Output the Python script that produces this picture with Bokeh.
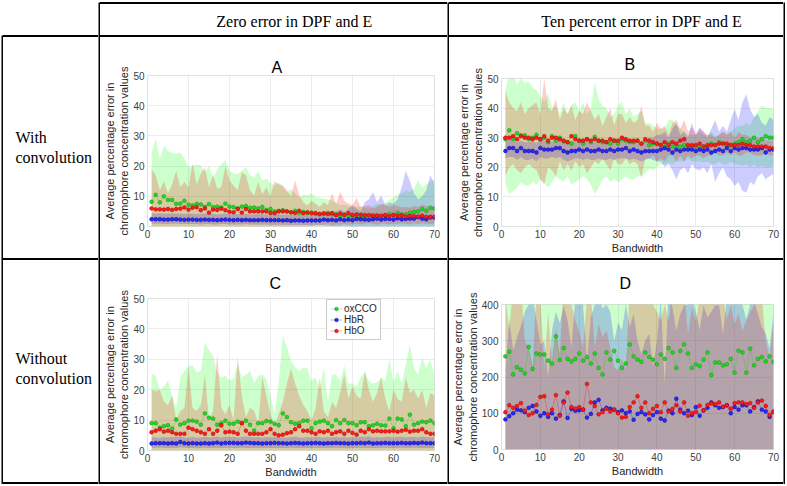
from bokeh.plotting import figure
from bokeh.layouts import row, column
from bokeh.models import Range1d, FixedTicker, Legend, LegendItem, Div
from bokeh.embed import file_html
from bokeh.resources import INLINE
from bokeh.core.properties import value

# ---------------- data ----------------
bandwidth = list(range(1, 71))
x_ticks = [0, 10, 20, 30, 40, 50, 60, 70]
y_ticks_small = [0, 10, 20, 30, 40, 50]
y_ticks_large = [0, 100, 200, 300, 400]
series_names = ["oxCCO", "HbR", "HbO"]
panel_titles = ["A", "B", "C", "D"]
header_labels = ["Zero error in DPF and E", "Ten percent error in DPF and E"]
row_labels = [["With", "convolution"], ["Without", "convolution"]]
x_label = "Bandwidth"
y_label = "Average percentage error in\nchromophore concentration values"

# Panel A : with convolution, zero error
A_oxcco_mean = [8.2, 10.5, 8.0, 10.0, 8.8, 8.8, 7.5, 7.6, 8.5, 7.2,
                7.0, 7.5, 7.3, 6.5, 7.4, 6.4, 6.6, 6.3, 7.6, 6.6,
                6.4, 6.0, 6.6, 6.8, 6.2, 6.3, 6.0, 6.5, 5.5, 5.8,
                5.0, 5.2, 5.4, 5.0, 4.7, 5.2, 4.5, 4.8, 4.5, 4.6,
                4.3, 4.0, 4.3, 4.5, 4.0, 4.0, 3.5, 3.7, 3.5, 3.5,
                3.0, 3.2, 3.4, 3.3, 3.3, 3.8, 3.4, 3.6, 4.2, 3.8,
                4.5, 4.0, 4.0, 4.5, 4.8, 5.0, 5.8, 5.2, 6.2, 6.0]
A_oxcco_lo = [0.0, 0.0, 0.0, 0.0, 0.0, 0.0, 0.0, 0.0, 0.0, 0.0,
              0.0, 0.0, 0.0, 0.0, 0.0, 0.0, 0.0, 0.0, 0.0, 0.0,
              0.0, 0.0, 0.0, 0.0, 0.0, 0.0, 0.0, 0.0, 0.0, 0.0,
              0.0, 0.0, 0.0, 0.0, 0.0, 0.0, 0.0, 0.0, 0.0, 0.0,
              0.0, 0.0, 0.0, 0.0, 0.0, 0.0, 0.0, 0.0, 0.0, 0.0,
              0.0, 0.0, 0.0, 0.0, 0.0, 0.0, 0.0, 0.0, 0.0, 0.0,
              0.0, 0.0, 0.0, 0.0, 0.0, 0.0, 0.0, 0.0, 0.0, 0.0]
A_oxcco_hi = [24.5, 29.0, 22.4, 26.8, 25.0, 24.5, 24.0, 24.5, 22.5, 19.6,
              20.0, 20.5, 20.2, 18.0, 20.2, 15.8, 19.0, 20.5, 22.0, 18.5,
              17.5, 17.4, 18.5, 19.6, 17.0, 16.3, 18.5, 15.2, 15.8, 14.5,
              13.6, 14.5, 13.5, 11.4, 12.5, 11.0, 9.7, 10.5, 10.3, 11.0,
              9.7, 9.5, 9.2, 9.0, 8.5, 7.8, 7.0, 7.2, 6.8, 6.4,
              6.6, 6.5, 6.2, 5.9, 6.8, 7.5, 7.0, 8.0, 8.8, 9.7,
              10.5, 11.0, 12.0, 11.5, 12.5, 15.2, 13.0, 14.0, 15.0, 15.8]
A_hbr_mean = [2.4, 2.4, 2.4, 2.3, 2.3, 2.4, 2.4, 2.3, 2.2, 2.3,
              2.3, 2.2, 2.2, 2.3, 2.2, 2.2, 2.1, 2.2, 2.3, 2.2,
              2.1, 2.2, 2.1, 2.2, 2.1, 2.1, 2.1, 2.2, 2.1, 2.1,
              2.1, 2.1, 2.0, 2.1, 1.9, 2.0, 2.0, 1.9, 2.0, 2.0,
              2.0, 2.0, 2.3, 2.1, 2.2, 2.0, 2.4, 2.1, 2.3, 2.1,
              2.5, 2.4, 2.3, 2.2, 2.4, 2.6, 2.3, 2.5, 2.5, 2.3,
              2.7, 2.4, 2.5, 2.6, 2.6, 3.1, 2.6, 2.4, 3.0, 2.9]
A_hbr_lo = [0.9, 0.9, 0.9, 0.8, 0.8, 0.9, 0.9, 0.8, 0.8, 0.8,
            0.8, 0.8, 0.7, 0.8, 0.8, 0.7, 0.7, 0.8, 0.8, 0.7,
            0.7, 0.7, 0.7, 0.8, 0.7, 0.7, 0.6, 0.7, 0.7, 0.6,
            0.6, 0.6, 0.6, 0.6, 0.5, 0.5, 0.5, 0.5, 0.5, 0.4,
            0.4, 0.3, 0.3, 0.2, 0.2, 0.1, 0.1, 0.2, 0.1, 0.0,
            0.0, 0.1, 0.0, 0.0, 0.0, 0.0, 0.0, 0.0, 0.0, 0.0,
            0.0, 0.0, 0.0, 0.0, 0.0, 0.0, 0.0, 0.0, 0.0, 0.0]
A_hbr_hi = [4.4, 4.3, 4.4, 4.2, 4.3, 4.4, 4.3, 4.2, 4.1, 4.3,
            4.2, 4.1, 4.2, 4.3, 4.1, 4.2, 4.0, 4.1, 4.3, 4.1,
            4.0, 4.1, 4.0, 4.2, 4.0, 4.0, 4.1, 4.1, 4.0, 4.0,
            4.0, 4.1, 3.9, 4.0, 3.8, 3.9, 3.9, 3.8, 4.0, 4.1,
            4.2, 4.3, 4.8, 4.5, 5.2, 5.0, 5.6, 4.8, 6.0, 7.0,
            6.0, 5.0, 8.0, 9.0, 11.4, 8.0, 10.3, 7.0, 8.0, 7.5,
            9.0, 13.0, 18.5, 15.0, 11.0, 9.0, 10.0, 12.0, 17.0, 14.0]
A_hbo_mean = [6.0, 5.7, 5.7, 5.6, 5.8, 5.5, 5.8, 5.9, 6.3, 5.6,
              6.2, 6.4, 5.4, 6.0, 4.6, 5.6, 5.5, 5.9, 5.4, 4.9,
              4.7, 5.8, 4.6, 5.8, 5.0, 5.0, 5.0, 5.0, 5.0, 4.5,
              4.4, 5.0, 5.0, 5.0, 4.7, 4.5, 5.2, 4.4, 4.7, 4.4,
              4.4, 4.2, 4.3, 4.1, 4.4, 3.7, 4.3, 3.9, 4.4, 3.8,
              4.0, 3.9, 3.8, 3.8, 3.7, 3.5, 3.6, 3.8, 3.4, 3.8,
              3.6, 3.7, 3.3, 3.5, 3.4, 3.3, 3.6, 3.2, 3.2, 3.3]
A_hbo_lo = [0.0, 0.0, 0.0, 0.0, 0.0, 0.0, 0.0, 0.0, 0.0, 0.0,
            0.0, 0.0, 0.0, 0.0, 0.0, 0.0, 0.0, 0.0, 0.0, 0.0,
            0.0, 0.0, 0.0, 0.0, 0.0, 0.0, 0.0, 0.0, 0.0, 0.0,
            0.0, 0.0, 0.0, 0.0, 0.0, 0.0, 0.0, 0.0, 0.0, 0.0,
            0.4, 0.6, 0.5, 0.8, 0.3, 0.7, 0.5, 0.9, 0.6, 0.8,
            1.0, 0.7, 0.9, 1.1, 0.8, 0.6, 1.0, 0.9, 0.7, 1.0,
            0.8, 1.1, 0.9, 0.7, 1.0, 0.8, 1.1, 0.9, 0.8, 1.0]
A_hbo_hi = [19.0, 17.0, 12.0, 15.0, 11.0, 14.0, 18.5, 13.0, 14.7, 13.0,
            21.0, 14.0, 17.5, 19.6, 13.0, 17.4, 12.5, 13.0, 20.0, 15.2,
            13.6, 12.0, 18.0, 17.0, 12.0, 10.3, 14.7, 10.8, 13.0, 10.0,
            15.0, 14.0, 13.5, 12.0, 10.0, 15.2, 10.5, 8.0, 7.0, 8.5,
            7.5, 6.5, 8.0, 7.0, 11.0, 7.5, 11.5, 8.5, 7.5, 7.0,
            9.5, 6.5, 6.8, 7.0, 6.0, 6.5, 7.5, 7.0, 6.5, 7.0,
            6.8, 6.3, 6.5, 6.2, 6.8, 6.5, 7.2, 6.8, 6.6, 6.3]

# Panel B : with convolution, ten percent error
B_oxcco_mean = [29.5, 32.5, 29.5, 31.5, 30.8, 30.8, 29.5, 30.0, 31.0, 29.5,
                30.0, 28.5, 30.5, 29.0, 30.0, 28.8, 28.5, 28.0, 30.5, 29.0,
                28.0, 29.5, 28.5, 30.3, 29.0, 28.5, 28.5, 28.0, 29.0, 28.0,
                29.5, 29.0, 28.5, 28.5, 29.0, 28.0, 29.0, 27.5, 28.0, 28.0,
                27.5, 27.0, 28.0, 27.0, 27.5, 27.0, 27.5, 27.0, 26.5, 27.0,
                26.5, 27.0, 27.0, 28.0, 27.5, 28.5, 28.0, 27.0, 27.5, 28.0,
                28.5, 29.5, 28.5, 29.0, 30.0, 28.5, 29.5, 30.5, 30.0, 30.0]
B_oxcco_lo = [14.3, 11.0, 12.0, 13.0, 15.0, 14.0, 13.7, 15.0, 14.0, 16.0,
              15.0, 13.0, 15.0, 17.0, 16.0, 15.0, 17.0, 14.3, 15.0, 16.0,
              17.0, 16.0, 14.0, 11.0, 13.0, 16.0, 17.0, 15.0, 16.0, 15.0,
              16.0, 17.0, 16.0, 16.0, 17.0, 17.0, 18.0, 19.4, 19.0, 20.0,
              21.0, 21.0, 21.6, 21.0, 22.0, 22.0, 22.0, 23.0, 22.0, 22.0,
              22.0, 21.5, 22.0, 21.0, 21.0, 22.0, 21.0, 21.0, 22.0, 21.0,
              21.0, 20.5, 21.0, 20.0, 21.0, 20.0, 20.5, 20.0, 20.0, 20.5]
B_oxcco_hi = [45.8, 52.0, 51.0, 48.0, 50.0, 48.6, 49.0, 47.0, 46.0, 44.0,
              42.0, 45.0, 40.0, 41.0, 38.0, 42.0, 38.0, 41.0, 42.0, 39.0,
              42.0, 38.0, 40.0, 48.6, 43.0, 40.8, 40.0, 37.0, 38.0, 41.0,
              42.0, 38.0, 40.0, 37.0, 38.0, 39.0, 35.0, 35.0, 34.0, 33.0,
              33.0, 33.0, 36.0, 36.0, 34.0, 33.0, 32.0, 31.0, 31.0, 31.0,
              32.0, 31.0, 31.0, 32.0, 30.5, 31.0, 32.0, 31.0, 32.0, 33.0,
              34.0, 34.0, 35.0, 34.0, 37.0, 39.0, 41.0, 40.0, 40.0, 39.6]
B_hbr_mean = [25.5, 26.5, 26.5, 25.5, 26.5, 25.5, 25.5, 25.5, 25.0, 26.5,
              26.0, 26.0, 26.0, 26.5, 26.5, 25.5, 25.0, 25.5, 25.5, 26.0,
              25.5, 26.0, 25.5, 25.5, 26.0, 25.5, 25.5, 26.0, 25.5, 26.0,
              26.0, 26.5, 25.5, 26.0, 25.5, 25.0, 25.5, 25.5, 25.5, 25.5,
              26.0, 26.5, 26.0, 25.0, 26.0, 25.5, 26.0, 26.0, 26.0, 25.5,
              26.0, 25.5, 26.0, 25.0, 25.5, 26.0, 25.5, 26.5, 25.5, 26.5,
              26.0, 26.5, 26.5, 26.0, 26.0, 26.0, 26.5, 25.0, 26.0, 26.0]
B_hbr_lo = [23.0, 23.5, 23.5, 22.5, 23.5, 22.5, 22.5, 23.0, 22.0, 23.5,
            23.0, 23.0, 23.5, 23.0, 23.5, 22.5, 22.0, 22.5, 23.0, 23.0,
            22.5, 23.0, 22.5, 22.5, 23.0, 22.5, 22.5, 23.0, 22.5, 23.0,
            23.0, 23.0, 22.5, 23.0, 22.5, 22.0, 22.5, 23.0, 22.5, 22.0,
            22.0, 20.0, 21.0, 19.0, 16.0, 19.0, 20.0, 18.0, 21.0, 19.4,
            19.0, 20.0, 18.0, 21.0, 15.0, 18.0, 20.0, 17.0, 16.0, 13.7,
            15.0, 12.0, 11.5, 15.0, 14.0, 17.0, 18.0, 16.0, 17.0, 17.7]
B_hbr_hi = [29.0, 29.5, 29.0, 28.5, 29.0, 28.5, 28.5, 29.0, 28.0, 30.0,
            29.0, 29.0, 28.5, 30.0, 29.0, 28.5, 28.0, 29.0, 28.5, 29.0,
            28.5, 29.0, 28.5, 28.5, 29.0, 28.5, 28.5, 29.0, 28.5, 29.0,
            29.0, 30.0, 28.5, 29.0, 28.5, 28.0, 29.0, 30.0, 30.0, 31.0,
            31.0, 32.0, 30.0, 33.0, 35.0, 31.0, 32.0, 30.0, 35.0, 31.0,
            33.5, 32.0, 30.0, 33.0, 36.0, 32.0, 34.0, 32.0, 36.0, 39.6,
            36.0, 42.0, 44.7, 39.6, 37.0, 38.0, 35.0, 34.0, 37.0, 36.0]
B_hbo_mean = [30.0, 30.0, 30.5, 29.5, 30.5, 30.0, 30.0, 29.5, 30.0, 29.5,
              30.5, 29.0, 30.0, 30.0, 29.5, 29.0, 28.5, 30.5, 29.5, 29.0,
              29.0, 29.5, 29.0, 29.5, 29.0, 29.0, 28.5, 29.5, 29.0, 29.0,
              30.0, 29.5, 29.0, 29.0, 29.0, 28.0, 29.5, 29.0, 28.5, 28.0,
              27.5, 28.5, 27.5, 28.5, 28.0, 29.0, 29.5, 27.5, 27.5, 27.5,
              28.0, 27.0, 27.5, 27.5, 27.5, 28.0, 28.0, 28.0, 27.5, 27.5,
              27.5, 28.0, 27.5, 27.5, 27.0, 27.0, 27.0, 27.0, 26.5, 26.5]
B_hbo_lo = [17.0, 20.0, 21.0, 19.0, 18.0, 20.0, 21.0, 20.0, 19.0, 16.0,
            14.0, 20.0, 19.0, 17.0, 22.0, 19.0, 21.0, 19.0, 22.0, 20.0,
            21.0, 18.0, 20.0, 22.0, 21.0, 23.0, 21.0, 19.0, 23.0, 21.0,
            21.0, 23.0, 21.0, 22.0, 21.0, 16.5, 23.0, 23.0, 24.0, 22.0,
            23.0, 22.0, 24.0, 24.0, 22.0, 24.0, 22.0, 24.0, 23.0, 24.0,
            24.0, 23.0, 24.0, 24.0, 25.0, 24.0, 24.0, 25.0, 24.0, 25.0,
            24.0, 24.0, 25.0, 25.0, 24.0, 24.0, 24.0, 25.0, 24.0, 24.0]
B_hbo_hi = [45.8, 42.0, 40.0, 39.0, 42.0, 38.0, 40.0, 41.0, 42.0, 38.0,
            50.0, 40.0, 39.0, 43.0, 36.0, 40.0, 38.0, 41.0, 36.0, 39.0,
            38.0, 42.0, 39.0, 36.0, 38.0, 34.0, 37.0, 40.0, 34.0, 38.0,
            38.0, 35.0, 37.0, 35.0, 36.0, 40.8, 34.0, 34.0, 32.0, 35.0,
            33.0, 34.0, 31.0, 35.0, 36.0, 33.0, 36.0, 32.0, 33.5, 31.0,
            33.0, 32.0, 31.0, 31.0, 30.0, 31.0, 32.0, 31.0, 32.0, 30.0,
            32.0, 31.0, 31.0, 30.0, 30.0, 30.0, 30.0, 29.0, 29.0, 29.0]

# Panel C : without convolution, zero error
C_oxcco_mean = [9.0, 9.0, 7.5, 8.0, 8.3, 7.2, 10.2, 8.5, 9.0, 9.8,
                9.8, 9.5, 8.5, 12.2, 10.8, 10.5, 8.5, 9.0, 9.8, 8.8,
                8.8, 9.5, 9.0, 9.8, 8.5, 6.5, 9.0, 9.0, 9.7, 9.5,
                8.8, 8.3, 12.2, 11.0, 9.3, 8.8, 9.0, 9.8, 9.8, 7.3,
                9.0, 9.5, 9.8, 9.0, 8.0, 10.0, 9.0, 10.0, 9.0, 9.0,
                8.3, 9.3, 9.3, 8.0, 8.3, 8.8, 8.3, 8.2, 10.5, 7.3,
                10.5, 10.2, 8.0, 11.8, 8.5, 9.0, 9.5, 9.3, 9.8, 9.0]
C_oxcco_lo = [0.0, 0.0, 0.0, 0.0, 0.0, 0.0, 0.0, 0.0, 0.0, 0.0,
              0.0, 0.0, 0.0, 0.0, 0.0, 0.0, 0.0, 0.0, 0.0, 0.0,
              0.0, 0.0, 0.0, 0.0, 0.0, 0.0, 0.0, 0.0, 0.0, 0.0,
              0.0, 0.0, 0.0, 0.0, 0.0, 0.0, 0.0, 0.0, 0.0, 0.0,
              0.0, 0.0, 0.0, 0.0, 0.0, 0.0, 0.0, 0.0, 0.0, 0.0,
              0.0, 0.0, 0.0, 0.0, 0.0, 0.0, 0.0, 0.0, 0.0, 0.0,
              0.0, 0.0, 0.0, 0.0, 0.0, 0.0, 0.0, 0.0, 0.0, 0.0]
C_oxcco_hi = [25.5, 24.5, 20.0, 21.0, 23.0, 18.0, 14.0, 24.0, 26.2, 28.0,
              28.0, 25.7, 26.2, 35.5, 33.0, 31.0, 25.7, 24.0, 24.6, 23.0,
              23.5, 28.4, 24.0, 25.0, 26.2, 22.4, 24.5, 25.0, 23.5, 18.0,
              12.0, 22.4, 37.7, 34.0, 29.5, 27.5, 26.0, 27.3, 27.0, 22.9,
              24.0, 20.2, 27.3, 16.0, 25.0, 25.0, 22.9, 28.0, 22.0, 22.0,
              21.0, 24.0, 26.0, 22.9, 22.0, 22.4, 24.0, 23.0, 30.0, 22.6,
              26.0, 22.0, 28.0, 35.0, 27.0, 25.0, 30.6, 27.0, 30.0, 24.6]
C_hbr_mean = [2.3, 2.4, 2.4, 2.4, 2.3, 2.4, 2.3, 2.8, 2.4, 2.3,
              2.4, 2.3, 2.3, 2.4, 2.3, 2.4, 2.6, 2.3, 2.5, 2.5,
              2.5, 2.4, 2.4, 2.6, 2.5, 2.4, 2.4, 2.3, 2.4, 2.4,
              2.5, 2.4, 2.4, 2.3, 2.4, 2.5, 2.4, 2.3, 2.4, 2.4,
              2.5, 2.4, 2.3, 2.4, 2.4, 2.5, 2.4, 2.4, 2.3, 2.4,
              2.4, 2.5, 2.4, 2.6, 2.3, 2.4, 2.4, 2.5, 2.4, 2.4,
              2.4, 2.5, 2.4, 2.4, 2.5, 2.4, 2.6, 2.4, 2.4, 2.4]
C_hbr_lo = [0.8, 0.9, 0.9, 0.8, 0.7, 0.8, 0.8, 1.0, 0.9, 0.8,
            0.8, 0.7, 0.8, 0.9, 0.8, 0.8, 0.9, 0.7, 0.8, 0.9,
            0.8, 0.8, 0.9, 0.8, 0.8, 0.7, 0.8, 0.8, 0.9, 0.8,
            0.8, 0.7, 0.8, 0.8, 0.9, 0.8, 0.8, 0.7, 0.8, 0.8,
            0.9, 0.8, 0.7, 0.8, 0.8, 0.9, 0.8, 0.8, 0.7, 0.8,
            0.8, 0.9, 0.8, 0.8, 0.7, 0.8, 0.8, 0.9, 0.8, 0.8,
            0.8, 0.9, 0.8, 0.8, 0.9, 0.8, 0.8, 0.8, 0.8, 0.8]
C_hbr_hi = [4.4, 4.3, 4.2, 4.4, 4.3, 4.5, 4.4, 4.8, 4.3, 4.2,
            4.4, 4.2, 4.3, 4.5, 4.3, 4.4, 4.6, 4.2, 4.5, 4.4,
            4.5, 4.3, 4.4, 4.6, 4.5, 4.3, 4.4, 4.2, 4.4, 4.3,
            4.5, 4.4, 4.3, 4.2, 4.4, 4.5, 4.3, 4.2, 4.4, 4.3,
            4.5, 4.4, 4.2, 4.4, 4.3, 4.5, 4.3, 4.4, 4.2, 4.4,
            4.3, 4.5, 4.4, 4.7, 4.2, 4.4, 4.3, 4.5, 4.4, 4.3,
            4.4, 4.5, 4.3, 4.4, 4.5, 4.3, 4.6, 4.4, 4.3, 4.4]
C_hbo_mean = [6.0, 6.5, 7.0, 6.2, 6.5, 6.0, 5.5, 5.5, 5.5, 7.5,
              7.0, 6.5, 6.0, 5.5, 7.0, 5.5, 6.5, 8.3, 6.0, 6.2,
              6.0, 5.5, 9.0, 6.5, 5.5, 5.5, 5.5, 5.5, 6.0, 7.0,
              5.5, 5.0, 5.2, 5.7, 6.0, 7.0, 8.0, 6.5, 6.5, 6.0,
              5.5, 6.3, 6.0, 6.5, 5.5, 6.0, 6.3, 5.5, 6.5, 5.8,
              5.2, 6.5, 6.0, 7.0, 6.3, 6.5, 6.3, 6.3, 6.3, 6.5,
              6.2, 6.5, 6.8, 6.2, 6.5, 6.5, 7.0, 6.0, 5.5, 5.5]
C_hbo_lo = [0.0, 0.0, 0.0, 0.0, 0.0, 0.0, 0.0, 0.0, 0.0, 0.0,
            0.0, 0.0, 0.0, 0.0, 0.0, 0.0, 0.0, 0.0, 0.0, 0.0,
            0.0, 0.0, 0.0, 0.0, 0.0, 0.0, 0.0, 0.0, 0.0, 0.0,
            0.0, 0.0, 0.0, 0.0, 0.0, 0.0, 0.0, 0.0, 0.0, 0.0,
            0.0, 0.0, 0.0, 0.0, 0.0, 0.0, 0.0, 0.0, 0.0, 0.0,
            0.0, 0.0, 0.0, 0.0, 0.0, 0.0, 0.0, 0.0, 0.0, 0.0,
            0.0, 0.0, 0.0, 0.0, 0.0, 0.0, 0.0, 0.0, 0.0, 0.0]
C_hbo_hi = [20.0, 19.5, 20.0, 16.0, 15.0, 18.0, 10.0, 13.0, 14.0, 27.5,
            14.0, 13.0, 15.0, 25.0, 10.0, 13.0, 32.0, 14.0, 12.0, 15.0,
            10.0, 31.0, 18.0, 11.0, 14.0, 13.0, 9.0, 24.0, 18.0, 12.0,
            8.0, 12.0, 16.0, 22.0, 27.0, 22.0, 18.0, 15.0, 13.0, 10.0,
            14.0, 24.0, 13.0, 11.0, 16.0, 14.0, 19.0, 25.0, 17.0, 21.0,
            18.0, 17.0, 26.0, 20.0, 16.0, 19.0, 24.0, 17.0, 13.0, 20.0,
            17.0, 16.0, 24.0, 19.0, 20.0, 17.0, 20.0, 14.0, 19.0, 18.0]

# Panel D : without convolution, ten percent error
D_oxcco_mean = [257, 270, 207, 227, 220, 210, 283, 222, 265, 262,
                262, 245, 237, 312, 247, 280, 250, 243, 250, 265,
                245, 255, 237, 265, 225, 207, 268, 248, 272, 245,
                225, 237, 290, 257, 248, 242, 268, 255, 248, 235,
                262, 250, 280, 268, 225, 272, 290, 265, 225, 235,
                230, 248, 268, 205, 240, 240, 232, 235, 250, 212,
                273, 268, 212, 278, 232, 250, 255, 243, 257, 242]
D_oxcco_lo = [0, 0, 0, 0, 0, 0, 0, 0, 0, 0,
              0, 0, 0, 0, 0, 0, 0, 0, 0, 0,
              0, 0, 0, 0, 0, 0, 0, 0, 0, 0,
              0, 0, 0, 0, 0, 0, 0, 0, 0, 0,
              0, 0, 0, 0, 0, 0, 0, 0, 0, 0,
              0, 0, 0, 0, 0, 0, 0, 0, 0, 0,
              0, 0, 0, 0, 0, 0, 0, 0, 0, 0]
D_oxcco_hi = [520, 480, 500, 470, 520, 480, 500, 460, 520, 540,
              480, 460, 460, 500, 520, 480, 500, 470, 520, 500,
              490, 460, 500, 480, 520, 470, 500, 510, 460, 480,
              470, 520, 500, 480, 470, 460, 500, 480, 470, 450,
              500, 440, 520, 480, 460, 470, 500, 460, 480, 500,
              470, 520, 500, 480, 520, 480, 470, 500, 480, 460,
              470, 500, 480, 520, 500, 470, 460, 440, 450, 470]
D_hbr_mean = [83, 92, 100, 110, 108, 103, 115, 120, 105, 93,
              100, 90, 100, 85, 95, 133, 87, 112, 107, 108,
              110, 88, 98, 130, 137, 108, 115, 113, 110, 103,
              108, 100, 105, 82, 98, 103, 97, 83, 95, 103,
              85, 80, 107, 100, 140, 110, 100, 107, 95, 117,
              93, 108, 115, 130, 122, 115, 117, 122, 100, 117,
              110, 122, 122, 105, 117, 133, 110, 105, 90, 103]
D_hbr_lo = [0, 0, 0, 0, 0, 0, 0, 0, 0, 0,
            0, 0, 0, 0, 0, 0, 0, 0, 0, 0,
            0, 0, 0, 0, 0, 0, 0, 0, 0, 0,
            0, 0, 0, 0, 0, 0, 0, 0, 0, 0,
            0, 0, 0, 0, 0, 0, 0, 0, 0, 0,
            0, 0, 0, 0, 0, 0, 0, 0, 0, 0,
            0, 0, 0, 0, 0, 0, 0, 0, 0, 0]
D_hbr_hi = [218, 360, 273, 310, 340, 380, 400, 420, 360, 290,
            300, 200, 330, 380, 350, 397, 356, 282, 420, 430,
            400, 245, 365, 400, 420, 390, 400, 380, 300, 350,
            330, 400, 337, 374, 300, 264, 300, 319, 227, 300,
            420, 181, 450, 392, 328, 374, 397, 400, 420, 380,
            330, 397, 365, 380, 397, 397, 319, 420, 440, 430,
            440, 400, 360, 400, 410, 374, 338, 320, 280, 380]
D_hbo_mean = [103, 122, 115, 120, 128, 107, 95, 100, 123, 145,
              147, 97, 110, 150, 93, 130, 157, 117, 113, 117,
              110, 181, 130, 120, 97, 103, 112, 105, 110, 100,
              88, 90, 117, 130, 147, 115, 130, 100, 112, 120,
              103, 130, 105, 112, 122, 105, 130, 93, 100, 103,
              121, 108, 123, 127, 125, 130, 118, 122, 113, 128,
              130, 130, 125, 128, 115, 130, 135, 120, 95, 105]
D_hbo_lo = [0, 0, 0, 0, 0, 0, 0, 0, 0, 0,
            0, 0, 0, 0, 0, 0, 0, 0, 0, 0,
            0, 0, 0, 0, 0, 0, 0, 0, 0, 0,
            0, 0, 0, 0, 0, 0, 0, 0, 0, 0,
            0, 0, 0, 0, 0, 0, 0, 0, 0, 0,
            0, 0, 0, 0, 0, 0, 0, 0, 0, 0,
            0, 0, 0, 0, 0, 0, 0, 0, 0, 0]
D_hbo_hi = [420, 330, 450, 440, 460, 300, 282, 227, 430, 420,
            227, 380, 236, 337, 264, 450, 430, 400, 356, 324,
            282, 420, 430, 282, 347, 310, 328, 282, 227, 218,
            250, 218, 450, 460, 440, 420, 410, 430, 400, 380,
            356, 400, 356, 440, 420, 430, 440, 319, 392, 356,
            420, 440, 430, 450, 460, 440, 420, 360, 397, 347,
            374, 328, 356, 380, 397, 430, 420, 300, 255, 356]

# ---------------- styling ----------------
BAND = {"oxCCO": "#00ff00", "HbR": "#0000ff", "HbO": "#ff0000"}
DOT = {"oxCCO": ("#22d822", "#129012"), "HbR": ("#2a2aff", "#0000a0"), "HbO": ("#ff1a1a", "#b00000")}
SANS = "Liberation Sans"
SERIF = "Liberation Serif"


def block(w, h, color, xr=(0, 1), yr=(0, 1)):
    f = figure(width=w, height=h, x_range=Range1d(*xr), y_range=Range1d(*yr),
               toolbar_location=None, output_backend="svg", title_location=None,
               x_axis_location=None, y_axis_location=None, min_border=0,
               background_fill_color=color, border_fill_color=color,
               outline_line_color=None)
    f.xgrid.visible = False
    f.ygrid.visible = False
    return f


def hbar(w, color="black"):
    return Div(text="", width=w, height=2, margin=(0, 0, 0, 0),
               styles={"background-color": color, "padding": "0px", "margin": "0px"})


def text_cell(w, h, xs, ys, labels, align):
    f = block(w, h, "white", (0, w), (0, h))
    f.text(x=xs, y=ys, text=labels, text_font=value(SERIF), text_font_size="16px",
           text_align=align, text_baseline="middle", text_color="black")
    return f


def chart(w, h, borders, title, t_off, t_stand, ymax, yticks, data, legend_loc=None):
    left, right, top, bottom = borders
    p = figure(width=w, height=h, x_range=Range1d(0, 70), y_range=Range1d(0, ymax),
               toolbar_location=None, output_backend="svg",
               min_border_left=left, min_border_right=right,
               min_border_top=top, min_border_bottom=bottom,
               background_fill_color="white", border_fill_color="white",
               outline_line_color="#e0e0e0", title=title)
    p.title.text_font = SANS
    p.title.text_font_size = "16px"
    p.title.text_font_style = "normal"
    p.title.text_color = "black"
    p.title.align = "left"
    p.title.offset = t_off
    p.title.standoff = t_stand

    p.xaxis.ticker = FixedTicker(ticks=x_ticks)
    p.yaxis.ticker = FixedTicker(ticks=yticks)
    p.xaxis.axis_label = x_label
    p.yaxis.axis_label = y_label
    for ax in (p.xaxis[0], p.yaxis[0]):
        ax.axis_label_text_font = SANS
        ax.axis_label_text_font_size = "11px"
        ax.axis_label_text_font_style = "normal"
        ax.axis_label_text_color = "#262626"
        ax.major_label_text_font = SANS
        ax.major_label_text_font_size = "10px"
        ax.major_label_text_color = "#404040"
        ax.major_tick_line_color = None
        ax.minor_tick_line_color = None
        ax.major_tick_out = 0
        ax.major_tick_in = 0
        ax.minor_tick_out = 0
        ax.minor_tick_in = 0
        ax.axis_line_color = None
        ax.major_label_standoff = 3
    p.xaxis.axis_label_standoff = 1
    p.yaxis.axis_label_standoff = 0
    p.grid.grid_line_color = "#ececec"

    for name in ["oxCCO", "HbR", "HbO"]:
        mean, lo, hi = data[name]
        p.varea(x=bandwidth, y1=lo, y2=hi, fill_color=BAND[name], fill_alpha=0.2)
    items = []
    for name in ["oxCCO", "HbR", "HbO"]:
        mean, lo, hi = data[name]
        fc, lc = DOT[name]
        ln = p.line(x=bandwidth, y=mean, line_color=fc, line_width=0.7, line_alpha=0.5)
        dt = p.scatter(x=bandwidth, y=mean, size=3.8, fill_color=fc, line_color=lc, line_width=0.5)
        items.append(LegendItem(label=name, renderers=[ln, dt]))
    if legend_loc is not None:
        lg = Legend(items=items, location=legend_loc)
        lg.background_fill_color = "white"
        lg.background_fill_alpha = 1.0
        lg.border_line_color = "#999999"
        lg.border_line_width = 1
        lg.label_text_font = SANS
        lg.label_text_font_size = "10px"
        lg.label_text_color = "#262626"
        lg.glyph_width = 12
        lg.glyph_height = 9
        lg.label_height = 9
        lg.label_standoff = 2
        lg.spacing = 0
        lg.padding = 3
        lg.margin = 0
        p.add_layout(lg)
    return p


dataA = {"oxCCO": (A_oxcco_mean, A_oxcco_lo, A_oxcco_hi),
         "HbR": (A_hbr_mean, A_hbr_lo, A_hbr_hi),
         "HbO": (A_hbo_mean, A_hbo_lo, A_hbo_hi)}
dataB = {"oxCCO": (B_oxcco_mean, B_oxcco_lo, B_oxcco_hi),
         "HbR": (B_hbr_mean, B_hbr_lo, B_hbr_hi),
         "HbO": (B_hbo_mean, B_hbo_lo, B_hbo_hi)}
dataC = {"oxCCO": (C_oxcco_mean, C_oxcco_lo, C_oxcco_hi),
         "HbR": (C_hbr_mean, C_hbr_lo, C_hbr_hi),
         "HbO": (C_hbo_mean, C_hbo_lo, C_hbo_hi)}
dataD = {"oxCCO": (D_oxcco_mean, D_oxcco_lo, D_oxcco_hi),
         "HbR": (D_hbr_mean, D_hbr_lo, D_hbr_hi),
         "HbO": (D_hbo_mean, D_hbo_lo, D_hbo_hi)}

W0, W1, W2 = 95, 347, 334
H0, H1, H2 = 31, 221, 222

pA = chart(W1, H1, (47, 13, 38, 32), panel_titles[0], 124, 0, 50, y_ticks_small, dataA)
pB = chart(W2, H1, (45, 7, 41, 32), panel_titles[1], 123, 11, 50, y_ticks_small, dataB)
pC = chart(W1, H2, (44, 13, 38, 32), panel_titles[2], 122, 14, 50, y_ticks_small, dataC,
           legend_loc=(179, 110))
pD = chart(W2, H2, (48, 10, 44, 33), panel_titles[3], 118, 25, 400, y_ticks_large, dataD)

head1 = text_cell(W1, H0, [177.5], [14.3], [header_labels[0]], "center")
head2 = text_cell(W2, H0, [172], [14.5], [header_labels[1]], "center")
lab1 = text_cell(W0, H1, [12, 12], [121, 101], row_labels[0], "left")
lab2 = text_cell(W0, H2, [12, 12], [124, 104], row_labels[1], "left")

TOT_H = 2 + H0 + 2 + H1 + 2 + H2 + 2
strip0 = block(1, TOT_H, "white")
strip1 = column(block(2, 2 + H0, "white"), block(2, TOT_H - 2 - H0, "black"))
strip2 = column(block(W0, 2 + H0, "white"), hbar(W0), lab1,
                hbar(W0), lab2, hbar(W0))
strip3 = block(2, TOT_H, "black")
strip4 = column(hbar(W1), head1, hbar(W1), pA, hbar(W1), pC, hbar(W1))
strip5 = block(2, TOT_H, "black")
strip6 = column(hbar(W2), head2, hbar(W2), pB, hbar(W2), pD, hbar(W2))
strip7 = block(2, TOT_H, "black")

layout = column(hbar(1 + 2 + W0 + 2 + W1 + 2 + W2 + 2, "white"),
                row(strip0, strip1, strip2, strip3, strip4, strip5, strip6, strip7))

open("out.html", "w").write(file_html(layout, INLINE))
